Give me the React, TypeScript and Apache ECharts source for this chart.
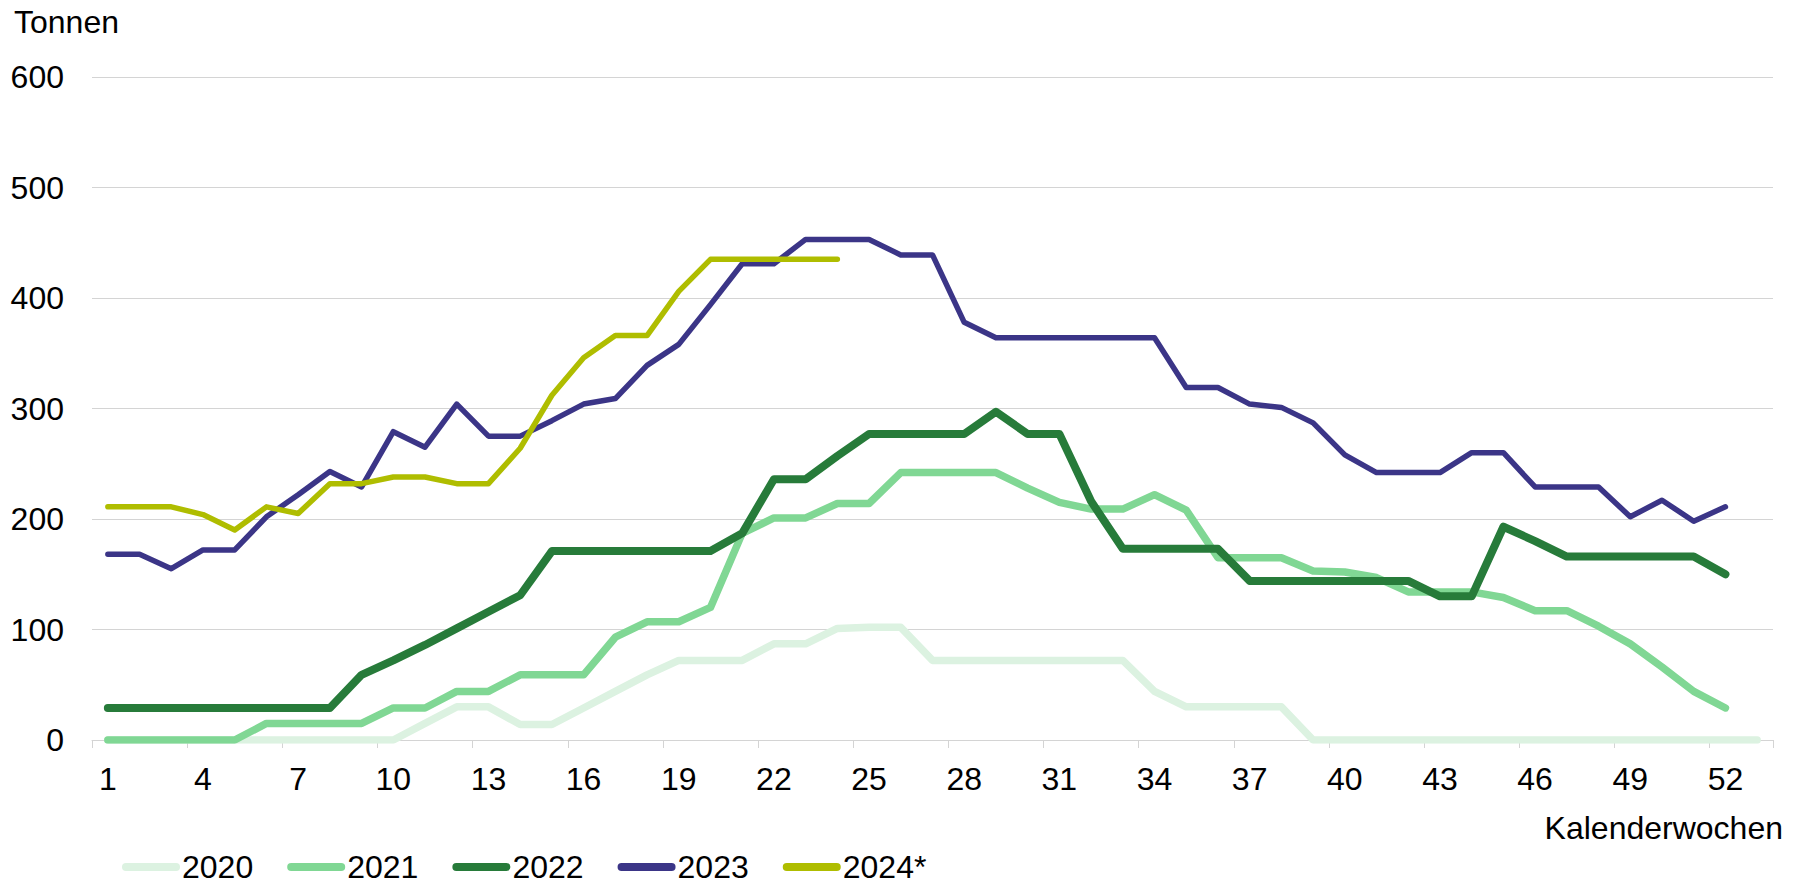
import React, { useEffect, useRef } from "react";
import * as echarts from "echarts";

const weeks = [
  "1", "2", "3", "4", "5", "6", "7", "8", "9", "10",
  "11", "12", "13", "14", "15", "16", "17", "18", "19", "20",
  "21", "22", "23", "24", "25", "26", "27", "28", "29", "30",
  "31", "32", "33", "34", "35", "36", "37", "38", "39", "40",
  "41", "42", "43", "44", "45", "46", "47", "48", "49", "50",
  "51", "52", "53",
];

const values2020 = [
  0, 0, 0, 0, 0, 0, 0, 0, 0, 0,
  15, 30, 30, 14, 14, 29, 44, 59, 72, 72,
  72, 87, 87, 101, 102, 102, 72, 72, 72, 72,
  72, 72, 72, 44, 30, 30, 30, 30, 0, 0,
  0, 0, 0, 0, 0, 0, 0, 0, 0, 0,
  0, 0, 0,
];

const values2021 = [
  0, 0, 0, 0, 0, 15, 15, 15, 15, 29,
  29, 44, 44, 59, 59, 59, 93, 107, 107, 120,
  187, 201, 201, 214, 214, 242, 242, 242, 242, 228,
  215, 209, 209, 222, 208, 165, 165, 165, 153, 152,
  147, 134, 134, 134, 129, 117, 117, 103, 87, 66,
  44, 29,
];

const values2022 = [
  29, 29, 29, 29, 29, 29, 29, 29, 59, 72,
  86, 101, 116, 131, 171, 171, 171, 171, 171, 171,
  187, 236, 236, 257, 277, 277, 277, 277, 297, 277,
  277, 216, 173, 173, 173, 173, 144, 144, 144, 144,
  144, 144, 130, 130, 193, 180, 166, 166, 166, 166,
  166, 150,
];

const values2023 = [
  168, 168, 155, 172, 172, 202, 222, 243, 229, 279,
  265, 304, 275, 275, 289, 304, 309, 339, 358, 394,
  431, 431, 453, 453, 453, 439, 439, 378, 364, 364,
  364, 364, 364, 364, 319, 319, 304, 301, 287, 258,
  242, 242, 242, 260, 260, 229, 229, 229, 202, 217,
  198, 211,
];

const values2024 = [
  211, 211, 211, 204, 190, 211, 205, 232, 232, 238,
  238, 232, 232, 264, 312, 346, 366, 366, 406, 435,
  435, 435, 435, 435,
];

const seriesNames = ["2020", "2021", "2022", "2023", "2024*"];
const seriesValues = [values2020, values2021, values2022, values2023, values2024];
const seriesColors = ["#dcf2e1", "#80d794", "#277b3a", "#3b3587", "#afbd00"];
const seriesWidths = [7.5, 7.5, 8, 5.5, 5.5];

const yMin = 0;
const yMax = 600;
const yStep = 100;

const FONT = '"Liberation Sans", Arial, Helvetica, sans-serif';
const GRID_COLOR = "#d4d4d4";
const CAPSULE = "path://M4,0 L54,0 A4,4 0 0 1 54,8 L4,8 A4,4 0 0 1 4,0 Z";

export default function App() {
  const ref = useRef<HTMLDivElement>(null);

  useEffect(() => {
    if (!ref.current) return;
    const chart = echarts.init(ref.current, null, { renderer: "svg" });
    const option: any = {
      animation: false,
      backgroundColor: "#ffffff",
      textStyle: { fontFamily: FONT },
      grid: { left: 92, right: 25, top: 77, bottom: 140, containLabel: false },
      legend: {
        data: seriesNames,
        left: 117,
        top: 846,
        orient: "horizontal",
        icon: CAPSULE,
        itemWidth: 58,
        itemHeight: 8,
        itemGap: 34,
        itemStyle: { borderWidth: 0 },
        textStyle: {
          fontSize: 32,
          lineHeight: 30,
          color: "#000000",
          fontFamily: FONT,
          padding: [0, 0, 0, -3],
        },
        selectedMode: false,
      },
      xAxis: {
        type: "category",
        data: weeks,
        boundaryGap: true,
        axisLine: { show: true, lineStyle: { color: GRID_COLOR, width: 1 } },
        axisTick: { show: true, interval: 2, length: 8, lineStyle: { color: GRID_COLOR, width: 1 } },
        axisLabel: { interval: 2, margin: 23, fontSize: 32, color: "#000000", fontFamily: FONT },
        splitLine: { show: false },
      },
      yAxis: {
        type: "value",
        min: yMin,
        max: yMax,
        interval: yStep,
        axisLine: { show: false },
        axisTick: { show: false },
        axisLabel: { margin: 28, fontSize: 32, color: "#000000", fontFamily: FONT },
        splitLine: { show: true, lineStyle: { color: GRID_COLOR, width: 1 } },
      },
      graphic: [
        {
          type: "text",
          style: {
            text: "Tonnen",
            x: 14,
            y: 22,
            textAlign: "left",
            textVerticalAlign: "middle",
            fontSize: 32,
            fontFamily: FONT,
            fill: "#000000",
          },
        },
        {
          type: "text",
          style: {
            text: "Kalenderwochen",
            x: 1783,
            y: 828,
            textAlign: "right",
            textVerticalAlign: "middle",
            fontSize: 32,
            fontFamily: FONT,
            fill: "#000000",
          },
        },
      ],
      series: seriesNames.map((name, i) => ({
        name,
        type: "line",
        data: seriesValues[i],
        symbol: "none",
        showSymbol: false,
        color: seriesColors[i],
        itemStyle: { color: seriesColors[i] },
        lineStyle: { color: seriesColors[i], width: seriesWidths[i], cap: "round", join: "round" },
        z: 2 + i,
        emphasis: { disabled: true },
      })),
    };
    chart.setOption(option);
    return () => chart.dispose();
  }, []);

  return (
    <div
      ref={ref}
      style={{ position: "fixed", left: 0, top: 0, width: 1798, height: 880, background: "#ffffff" }}
    />
  );
}
